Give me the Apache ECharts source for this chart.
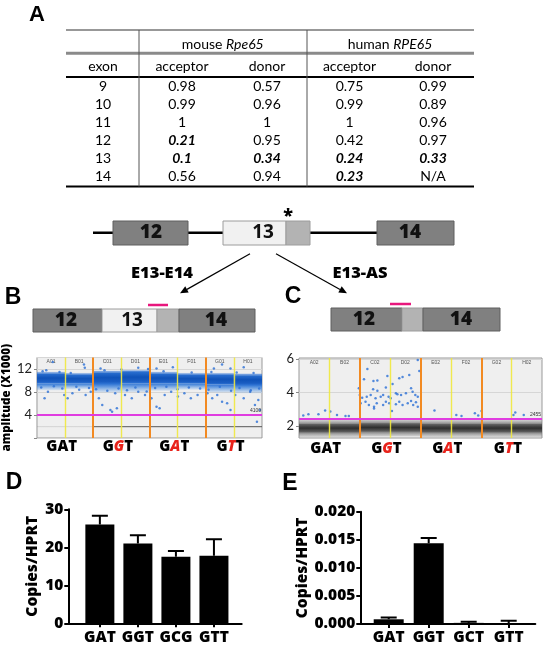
<!DOCTYPE html>
<html><head><meta charset="utf-8">
<script src="https://cdn.jsdelivr.net/npm/echarts@6/dist/echarts.min.js"></script>
<style>html,body{margin:0;padding:0;background:#fff}#c{width:544px;height:649px}</style>
</head><body><div id="c"></div><script>
// ---------- Panel A table ----------
const exons = ['9','10','11','12','13','14'];
const mouseAcceptor = ['0.98','0.99','1','0.21','0.1','0.56'];
const mouseDonor    = ['0.57','0.96','1','0.95','0.34','0.94'];
const humanAcceptor = ['0.75','0.99','1','0.42','0.24','0.23'];
const humanDonor    = ['0.99','0.89','0.96','0.97','0.33','N/A'];
// weak splice sites (bold italic) as [row, column]
const weakSites = [[3,0],[4,0],[4,1],[4,2],[5,2],[4,3]];

// ---------- Panels B / C (ddPCR) ----------
const wellsB = ['A01','B01','C01','D01','E01','F01','G01','H01'];
const wellsC = ['A02','B02','C02','D02','E02','F02','G02','H02'];
const codons = [['G','A','T'],['G','G','T'],['G','A','T'],['G','T','T']];
const mutatedPos = [-1, 1, 1, 1];
const thresholdB = 4.1, thresholdLabelB = '4100';
const thresholdC = 2.455, thresholdLabelC = '2455';
// positive droplet cluster per well (amplitude x1000)
const bCoreHigh = [11.2, 11.0, 11.4, 11.5, 11.2, 11.0, 11.0, 10.9];
const bCoreLow  = [9.5, 9.5, 9.4, 9.5, 9.5, 9.5, 9.3, 9.2];
const bSpreadLow = [8.3, 8.5, 7.9, 8.0, 8.2, 8.4, 7.9, 7.8];
const bNegLow  = [1.86, 1.86, 1.82, 1.82, 1.82, 1.82, 1.82, 1.82];
const bNegHigh = [2.04, 2.04, 2.1, 2.1, 2.1, 2.1, 2.1, 2.1];
const bNegCounts = [300, 300, 900, 900, 900, 900, 900, 900];
const bDroplets = [[0.56,13.2],[0.33,11.8],[1.67,12.8],[1.70,12.2],[2.26,12.1],[3.6,12.2],[4.25,12.1],[4.83,12.3],[6.29,12.1],[6.58,12.8],[6.88,12.1],[7.35,12.3],
 [0.27,6.9],[0.39,8.05],[0.97,7.5],[1.09,6.9],[1.26,7.8],[1.5,8.4],[1.73,7.5],[1.91,8.05],[2.2,6.9],[2.32,5.74],[2.61,4.87],[2.67,4.58],[2.84,5.16],[2.78,7.8],[3.13,7.5],[3.37,6.9],[3.6,8.05],[3.84,7.5],[4.07,6.9],[4.25,5.45],[4.36,5.16],[4.54,7.5],[4.77,8.05],[5.01,7.2],[5.24,7.8],[5.47,6.9],[5.71,7.5],[6.06,7.8],[6.23,6.9],[6.41,7.5],[6.58,6.3],[6.76,6.03],[6.88,4.87],[7.05,7.5],[7.35,6.9],[7.58,8.05],[7.75,5.74],[7.87,6.6],[7.93,4.87],[7.82,2.84],
 [0.15,8.8],[0.6,9.0],[0.9,8.6],[1.4,8.9],[1.85,8.7],[2.1,8.5],[2.5,8.2],[2.9,8.6],[3.2,8.3],[3.5,8.8],[3.9,8.1],[4.2,8.7],[4.6,8.9],[5.0,8.5],[5.4,8.8],[5.8,8.6],[6.1,8.4],[6.5,8.9],[6.9,8.2],[7.2,8.7],[7.6,8.3],[7.9,8.6],
 [0.2,11.6],[0.8,11.5],[1.2,11.3],[2.4,11.8],[3.0,11.9],[3.95,12.0],[4.5,11.6],[5.5,11.4],[6.2,11.5],[7.1,11.4],[7.7,11.3]];
const cCoreHigh = [2.12, 2.12, 2.16, 2.16, 2.12, 2.12, 2.12, 2.12];
const cCoreLow  = [1.62, 1.62, 1.66, 1.66, 1.62, 1.62, 1.62, 1.62];
const cOuterHigh = [2.38, 2.38, 2.42, 2.4, 2.38, 2.38, 2.38, 2.38];
const cOuterLow  = [1.34, 1.34, 1.37, 1.37, 1.34, 1.34, 1.34, 1.34];
const cDroplets = [[2.25,5.40],[2.14,4.79],[2.45,4.69],[2.58,4.71],[2.91,4.99],[3.41,4.93],[3.30,4.85],[3.63,5.05],[3.91,5.94],[3.96,5.28],
 [1.97,4.25],[2.44,4.19],[2.58,4.11],[2.86,4.29],[3.08,4.51],[3.19,3.95],[2.0,3.85],[2.08,3.69],[2.23,3.75],[2.36,3.85],[2.52,3.65],[2.69,3.75],[2.77,3.85],[2.95,3.75],[3.02,3.65],[3.24,3.89],[3.36,3.85],[3.52,3.95],[3.69,4.25],[3.74,4.05],[3.83,3.85],[3.91,3.75],
 [2.03,3.35],[2.19,3.45],[2.30,3.25],[2.47,3.15],[2.56,3.35],[2.86,3.45],[2.97,3.35],[3.19,3.29],[3.30,3.45],[3.41,3.25],[3.58,3.35],[3.69,3.49],[3.76,3.25],[3.85,3.41],[3.91,3.15],[3.06,2.89],[2.47,3.05],[2.77,3.25],
 [0.14,2.62],[0.31,2.70],[0.64,2.70],[0.86,2.92],[1.03,2.86],[1.25,2.66],[1.53,2.60],[1.64,2.60],[4.46,2.92],[5.18,2.66],[5.35,2.60],[5.79,2.76],[5.90,2.62],[6.01,2.90],[7.06,2.66],[7.12,2.80],[7.40,2.66]];

// ---------- Panels D / E ----------
const dCats = ['GAT','GGT','GCG','GTT'];
const dMeans = [26.0, 21.0, 17.5, 17.8];
const dErr   = [2.3, 2.2, 1.5, 4.3];
const eCats = ['GAT','GGT','GCT','GTT'];
const eMeans = [0.00084, 0.0144, 0.0002, 0.0001];
const eErr   = [0.0003, 0.0009, 0.0002, 0.0005];

// ================= drawing =================
const FONT = 'Lato';
const HF = '"Open Sans"';   // heavy label face
const HW = 800;
const chart = echarts.init(document.getElementById('c'), null, {renderer:'canvas'});
const G = [];
function txt(x, y, text, font, extra) {
  return {type:'text', x, y, silent:true, z:10,
    style: Object.assign({text, font, fill:'#000', textAlign:'center', textVerticalAlign:'middle', align:'center', verticalAlign:'middle'}, extra||{})};
}
function line(x1,y1,x2,y2,stroke,lw){ return {type:'line', silent:true, z:5, shape:{x1,y1,x2,y2}, style:{stroke, lineWidth:lw}}; }
function rect(x,y,w,h,fill,stroke){ return {type:'rect', silent:true, z:6, shape:{x,y,width:w,height:h}, style:{fill, stroke, lineWidth:1}}; }
function arrow(x1,y1,x2,y2){
  const a = Math.atan2(y2-y1, x2-x1), L = 8, W = 3.5;
  const bx = x2 - L*Math.cos(a), by = y2 - L*Math.sin(a);
  return [line(x1,y1,bx,by,'#000',1.2),
    {type:'polygon', silent:true, z:6, shape:{points:[[x2,y2],[bx+W*Math.sin(a), by-W*Math.cos(a)],[bx-W*Math.sin(a), by+W*Math.cos(a)]]}, style:{fill:'#000'}}];
}

// Panel A
G.push(txt(37, 15, 'A', 'bold 22px "Liberation Sans"'));
const tL = 66, tR = 474, colX = [103, 182, 267, 349.5, 433];
G.push(line(tL, 30, tR, 30, '#333', 1.2));
G.push(line(tL, 53.3, tR, 53.3, '#8a8a8a', 3));
G.push(line(tL, 77, tR, 77, '#000', 1.8));
G.push(line(tL, 186.5, tR, 186.5, '#000', 2.2));
G.push(line(139, 30, 139, 186.5, '#555', 1));
G.push(line(307, 30, 307, 186.5, '#555', 1));
const rich14 = {i:{font:'italic 14px '+FONT, fill:'#000'}};
G.push(txt(222.7, 44.5, 'mouse {i|Rpe65}', '14px '+FONT, {rich:rich14}));
G.push(txt(390, 44.5, 'human {i|RPE65}', '14px '+FONT, {rich:rich14}));
['exon','acceptor','donor','acceptor','donor'].forEach((h,i)=>G.push(txt(colX[i], 66, h, '14px '+FONT)));
const cols = [mouseAcceptor, mouseDonor, humanAcceptor, humanDonor];
exons.forEach((ex, r) => {
  const y = 86.7 + r*18;
  G.push(txt(colX[0], y, ex, '14px '+FONT));
  cols.forEach((col, c) => {
    const weak = weakSites.some(w => w[0]===r && w[1]===c);
    G.push(txt(colX[c+1], y, col[r], (weak ? 'italic bold ' : '') + '14px ' + FONT));
  });
});

// Gene diagram
const dark = '#808080', darkS = '#5e5e5e', light = '#f1f1f1', stip = '#b3b3b3', lightS = '#9c9c9c';
const boxFont = HW + ' 19px ' + HF;
G.push(line(93, 232.7, 454, 232.7, '#000', 2.5));
G.push(rect(113, 221, 75, 24, dark, darkS));
G.push(rect(223, 221, 63, 24, light, lightS));
G.push(rect(286, 221, 24, 24, stip, lightS));
G.push(rect(377, 221, 77, 24, dark, darkS));
G.push(txt(151, 233, '12', boxFont, {fill:'#111'}));
G.push(txt(263, 233, '13', '700 19px '+HF, {fill:'#111'}));
G.push(txt(410, 233, '14', boxFont, {fill:'#111'}));
G.push(txt(288, 216, '*', '800 18px '+HF));
arrow(250, 253.7, 180, 293.3).forEach(e=>G.push(e));
arrow(276, 253.7, 347, 293.3).forEach(e=>G.push(e));
G.push(txt(162, 273, 'E13-E14', HW + ' 16.5px '+HF));
G.push(txt(360, 273, 'E13-AS', HW + ' 16.5px '+HF));

// Panel letters
G.push(txt(13, 298, 'B', 'bold 23px "Liberation Sans"'));
G.push(txt(293, 297, 'C', 'bold 23px "Liberation Sans"'));
G.push(txt(14, 483, 'D', 'bold 23px "Liberation Sans"'));
G.push(txt(290, 484, 'E', 'bold 23px "Liberation Sans"'));

// B transcript
G.push(rect(33, 309, 69, 23, dark, darkS));
G.push(rect(102, 309, 55, 23, light, lightS));
G.push(rect(157, 309, 22, 23, stip, lightS));
G.push(rect(179, 309, 76, 23, dark, darkS));
G.push(txt(66, 320.5, '12', boxFont, {fill:'#111'}));
G.push(txt(132, 320.5, '13', '700 19px '+HF, {fill:'#111'}));
G.push(txt(216, 320.5, '14', boxFont, {fill:'#111'}));
G.push(line(148, 305, 168, 305, '#e8177d', 2.5));
// C transcript
G.push(rect(331, 308, 71, 23, dark, darkS));
G.push(rect(402, 308, 21, 23, stip, lightS));
G.push(rect(423, 308, 77, 23, dark, darkS));
G.push(txt(364, 319.5, '12', boxFont, {fill:'#111'}));
G.push(txt(461, 319.5, '14', boxFont, {fill:'#111'}));
G.push(line(390, 304, 411, 304, '#e8177d', 2.5));

// ---------- helpers for series ----------
function grad(stops){ return new echarts.graphic.LinearGradient(0,0,0,1, stops.map(s=>({offset:s[0], color:s[1]}))); }
function band(xi, yi, lows, highs, fill, z, opac) {
  return {type:'custom', xAxisIndex:xi, yAxisIndex:yi, z, silent:true, clip:true,
    data: lows.map((lo,i)=>[i, lo, highs[i], opac ? opac[i] : 1]),
    renderItem(params, api){
      const i = api.value(0);
      const a = api.coord([i, api.value(2)]), b = api.coord([i+1, api.value(1)]);
      return {type:'rect', shape:{x:a[0], y:a[1], width:b[0]-a[0], height:b[1]-a[1]}, style:{fill, opacity:api.value(3)}};
    }};
}
function wellLines(thr, thrLabel){
  const d = [];
  [1,3,5,7].forEach(v=>d.push({xAxis:v, lineStyle:{color:'#f0e83c', width:1.4, type:'solid', opacity:0.9}}));
  [2,4,6].forEach(v=>d.push({xAxis:v, lineStyle:{color:'#f28a22', width:2, type:'solid'}}));
  d.push({yAxis:thr, lineStyle:{color:'#e03ce0', width:2, type:'solid'},
    label:{show:true, formatter:thrLabel, position:'insideEndTop', fontSize:5, color:'#333', distance:1}});
  return {silent:true, symbol:['none','none'], label:{show:false}, animation:false, data:d};
}
function errSeries(xi, yi, means, errs){
  return {type:'custom', xAxisIndex:xi, yAxisIndex:yi, z:4, silent:true,
    data: means.map((m,i)=>[i, m+errs[i], m]),
    renderItem(params, api){
      const t = api.coord([api.value(0), api.value(1)]), m = api.coord([api.value(0), api.value(2)]);
      return {type:'polyline', shape:{points:[[m[0], m[1]],[t[0], t[1]],[t[0]-8, t[1]],[t[0]+8, t[1]]]},
              style:{stroke:'#000', lineWidth:2, fill:null}};
    }};
}
const codonPos = codons.map((c,i)=>2*i+0.88);
const codonRich = {n:{fontFamily:HF, fontWeight:HW, fontSize:15, color:'#000'},
                   r:{fontFamily:HF, fontWeight:HW, fontStyle:'italic', fontSize:15, color:'#e8231b'}};
function codonFmt(v){
  const k = Math.round((v-0.88)/2);
  return codons[k].map((ch,j)=> j===mutatedPos[k] ? '{r|'+ch+'}' : '{n|'+ch+'}').join('');
}
function ddX(gi, margin){
  return [{type:'value', gridIndex:gi, min:0, max:8, position:'bottom', axisLine:{show:false}, axisTick:{show:false}, splitLine:{show:false},
           axisLabel:{customValues:codonPos, formatter:codonFmt, rich:codonRich, margin, showMinLabel:true, showMaxLabel:true}},
          {type:'value', gridIndex:gi, min:0, max:8, position:'top', axisLine:{show:false}, axisTick:{show:false}, splitLine:{show:false},
           axisLabel:{inside:true, customValues:[0.5,1.5,2.5,3.5,4.5,5.5,6.5,7.5], formatter:v=> (gi===0?wellsB:wellsC)[Math.floor(v)], fontSize:5, color:'#555', margin:2}}];
}
const barAxisLabel = {fontFamily:HF, fontWeight:HW, fontSize:15.5, color:'#000'};
const barName = {fontFamily:HF, fontWeight:HW, fontSize:15.5, color:'#000'};

const option = {
  animation:false,
  graphic:{elements:G},
  grid:[
    {left:35, top:357.5, width:227, height:80.5, show:true, backgroundColor:'#efefef', borderColor:'#999', borderWidth:1},
    {left:299, top:358, width:243, height:80, show:true, backgroundColor:'#efefef', borderColor:'#999', borderWidth:1},
    {left:68.3, top:509.3, width:173.4, height:114},
    {left:360.3, top:511.7, width:175, height:112.3}
  ],
  xAxis:[
    ...ddX(0, 1), ...ddX(1, 3),
    {type:'value', gridIndex:2, min:-0.83, max:3.73, splitLine:{show:false},
     axisLine:{onZero:false, lineStyle:{color:'#000', width:2}}, axisTick:{customValues:[0,1,2,3], length:4, lineStyle:{color:'#000', width:2}},
     axisLabel:Object.assign({customValues:[0,1,2,3], formatter:v=>dCats[Math.round(v)], margin:6}, barAxisLabel)},
    {type:'value', gridIndex:3, min:-0.71, max:3.665, splitLine:{show:false},
     axisLine:{onZero:false, lineStyle:{color:'#000', width:2}}, axisTick:{customValues:[0,1,2,3], length:4, lineStyle:{color:'#000', width:2}},
     axisLabel:Object.assign({customValues:[0,1,2,3], formatter:v=>eCats[Math.round(v)], margin:6}, barAxisLabel)}
  ],
  yAxis:[
    {type:'value', gridIndex:0, min:0, max:14, interval:4, axisLine:{show:false, onZero:false}, axisTick:{show:true, length:3, lineStyle:{color:'#888'}},
     splitLine:{lineStyle:{color:'#d6d6d6'}}, axisLabel:{formatter:v=> v===0 ? '' : String(v), fontFamily:FONT, fontSize:13, color:'#222', margin:5},
     name:'amplitude (X1000)', nameLocation:'middle', nameRotate:90, nameGap:20, nameTextStyle:{fontFamily:HF, fontWeight:HW, fontSize:11.5, color:'#000'}},
    {type:'value', gridIndex:1, min:1.28, max:6.06, axisLine:{show:false, onZero:false}, axisTick:{show:true, customValues:[2,4,6], length:3, lineStyle:{color:'#888'}},
     splitLine:{lineStyle:{color:'#d6d6d6'}}, axisLabel:{customValues:[2,4,6], fontFamily:FONT, fontSize:13, color:'#222', margin:5}},
    {type:'value', gridIndex:2, min:0, max:30, interval:10, splitLine:{show:false},
     axisLine:{show:true, onZero:false, lineStyle:{color:'#000', width:2}}, axisTick:{show:true, length:4, lineStyle:{color:'#000', width:2}},
     axisLabel:Object.assign({margin:5}, barAxisLabel),
     name:'Copies/HPRT', nameLocation:'middle', nameRotate:90, nameGap:28, nameTextStyle:barName},
    {type:'value', gridIndex:3, min:0, max:0.02, interval:0.005, splitLine:{show:false},
     axisLine:{show:true, onZero:false, lineStyle:{color:'#000', width:2}}, axisTick:{show:true, length:4, lineStyle:{color:'#000', width:2}},
     axisLabel:Object.assign({margin:5, formatter:v=>v.toFixed(3)}, barAxisLabel),
     name:'Copies/HPRT', nameLocation:'middle', nameRotate:90, nameGap:50, nameTextStyle:barName}
  ],
  series:[
    // B
    band(0,0, bSpreadLow, bCoreLow, grad([[0,'#2f74d4'],[0.35,'rgba(60,130,220,0.75)'],[1,'rgba(90,155,230,0.15)']]), 1),
    band(0,0, bCoreHigh, bCoreHigh.map(v=>v+0.35), grad([[0,'rgba(40,110,215,0.1)'],[1,'#2a6fd0']]), 1),
    band(0,0, bCoreLow, bCoreHigh, grad([[0,'#2a6fd0'],[0.45,'#0f52b8'],[0.8,'#1a5dc2'],[1,'#2f74d4']]), 2),
    band(0,0, bNegLow, bNegHigh, grad([[0,'rgba(90,90,90,0.4)'],[0.5,'#444'],[1,'rgba(90,90,90,0.4)']]), 2, bNegCounts.map(c=>c/1000)),
    {type:'scatter', xAxisIndex:0, yAxisIndex:0, z:3, data:bDroplets, symbolSize:2.5, itemStyle:{color:'#2a6fd6'}, silent:true, markLine:wellLines(thresholdB, thresholdLabelB)},
    // C
    band(2,1, cOuterLow, cOuterHigh, grad([[0,'rgba(150,150,150,0.3)'],[0.25,'rgba(110,110,110,0.8)'],[0.5,'#555'],[0.75,'rgba(110,110,110,0.8)'],[1,'rgba(150,150,150,0.3)']]), 1),
    band(2,1, cCoreLow, cCoreHigh, grad([[0,'rgba(70,70,70,0.5)'],[0.5,'rgba(40,40,40,0.85)'],[1,'rgba(70,70,70,0.5)']]), 2),
    {type:'scatter', xAxisIndex:2, yAxisIndex:1, z:3, data:cDroplets, symbolSize:2.5, itemStyle:{color:'#2a6fd6'}, silent:true, markLine:wellLines(thresholdC, thresholdLabelC)},
    // D
    {type:'bar', xAxisIndex:4, yAxisIndex:2, data:dMeans.map((m,i)=>[i,m]), barWidth:29, itemStyle:{color:'#000'}, silent:true, z:3},
    errSeries(4, 2, dMeans, dErr),
    // E
    {type:'bar', xAxisIndex:5, yAxisIndex:3, data:eMeans.map((m,i)=>[i,m]), barWidth:30, itemStyle:{color:'#000'}, silent:true, z:3},
    errSeries(5, 3, eMeans, eErr)
  ]
};
chart.setOption(option);
</script></body></html>
